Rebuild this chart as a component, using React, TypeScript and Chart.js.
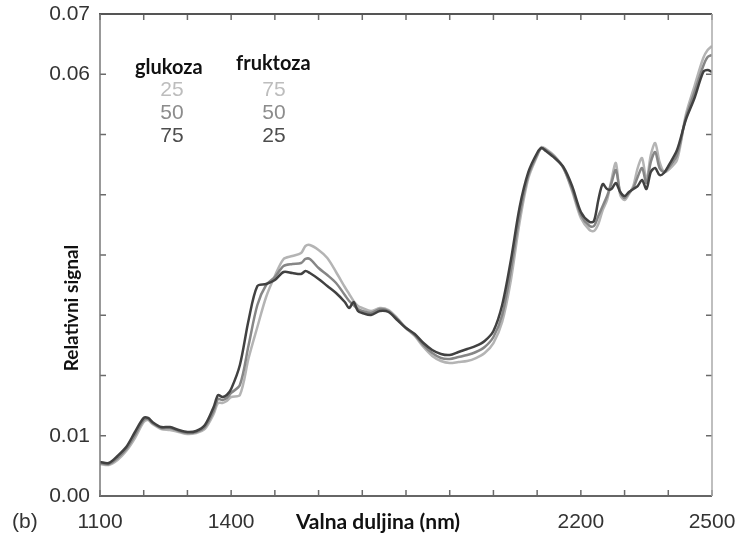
import React, { useEffect, useRef } from "react";
import { Chart, registerables } from "chart.js";

Chart.register(...registerables);

// Wavelengths (nm)
const WAVELENGTHS = [
  1100, 1120, 1140, 1160, 1180, 1200, 1210, 1220, 1240, 1260, 1280, 1300, 1320, 1340, 1360, 1370, 1380, 1390,
  1400, 1420, 1440, 1460, 1480, 1500, 1520, 1540, 1560, 1570, 1580, 1600, 1620, 1640, 1660, 1670, 1680, 1690,
  1700, 1720, 1740, 1760, 1780, 1800, 1820, 1840, 1860, 1880, 1900, 1920, 1940, 1960, 1980, 2000, 2020, 2040,
  2060, 2080, 2100, 2110, 2120, 2140, 2160, 2180, 2200, 2220, 2230, 2240, 2250, 2260, 2270, 2280, 2290, 2300,
  2310, 2320, 2330, 2340, 2350, 2360, 2370, 2380, 2390, 2400, 2420, 2440, 2460, 2480, 2490, 2500,
];

// glukoza 75 / fruktoza 25 (dark)
const GLU75_FRU25 = [
  0.00564, 0.00548, 0.00664, 0.00813, 0.01062, 0.01295, 0.01295, 0.01228, 0.01145, 0.01145, 0.01095, 0.01062,
  0.01079, 0.01178, 0.01477, 0.01676, 0.01643, 0.01676, 0.01776, 0.02174, 0.02921, 0.03485, 0.03519, 0.03585,
  0.03718, 0.03701, 0.03685, 0.03734, 0.03701, 0.03602, 0.03485, 0.03369, 0.0322, 0.0312, 0.0322, 0.0307,
  0.03037, 0.03004, 0.0307, 0.03054, 0.02921, 0.02788, 0.02689, 0.02539, 0.02423, 0.02357, 0.0234, 0.0239,
  0.0244, 0.0249, 0.02573, 0.02739, 0.0317, 0.03917, 0.04797, 0.05378, 0.05693, 0.05776, 0.05726, 0.0561,
  0.0546, 0.05145, 0.04714, 0.04548, 0.04564, 0.04913, 0.05178, 0.05095, 0.05095, 0.05195, 0.05046, 0.04979,
  0.05046, 0.05095, 0.05145, 0.05245, 0.05095, 0.05378, 0.05444, 0.05328, 0.05361, 0.05477, 0.05743, 0.06241,
  0.06606, 0.07037, 0.07071, 0.07037,
];

// glukoza 50 / fruktoza 50 (mid grey)
const GLU50_FRU50 = [
  0.00548, 0.00531, 0.00631, 0.0078, 0.01012, 0.01261, 0.01278, 0.01212, 0.01129, 0.01129, 0.01079, 0.01046,
  0.01062, 0.01145, 0.01411, 0.0161, 0.01593, 0.01627, 0.0171, 0.01842, 0.02506, 0.0317, 0.03502, 0.03635,
  0.03817, 0.03851, 0.03867, 0.03934, 0.03934, 0.03784, 0.03668, 0.03535, 0.03336, 0.03237, 0.0317, 0.03104,
  0.0307, 0.03037, 0.03104, 0.0307, 0.02938, 0.02788, 0.02672, 0.02506, 0.02373, 0.0229, 0.02274, 0.02307,
  0.0234, 0.0239, 0.02473, 0.02639, 0.03004, 0.03751, 0.04664, 0.05328, 0.0566, 0.05776, 0.05743, 0.05627,
  0.05444, 0.05095, 0.04664, 0.04481, 0.04481, 0.04647, 0.04813, 0.04979, 0.05195, 0.05411, 0.05046, 0.04946,
  0.05029, 0.05112, 0.05295, 0.05444, 0.05195, 0.05544, 0.0571, 0.05444, 0.05378, 0.05444, 0.0566, 0.06274,
  0.06705, 0.07137, 0.07286, 0.0732,
];

// glukoza 25 / fruktoza 75 (light grey)
const GLU25_FRU75 = [
  0.00531, 0.00515, 0.00598, 0.00747, 0.00963, 0.01228, 0.01261, 0.01195, 0.01112, 0.01095, 0.01062, 0.01029,
  0.01046, 0.01112, 0.01361, 0.01544, 0.01544, 0.01577, 0.01643, 0.01676, 0.0229, 0.02805, 0.03303, 0.03651,
  0.03934, 0.03983, 0.04033, 0.04149, 0.04166, 0.04083, 0.0395, 0.03718, 0.03469, 0.03353, 0.03237, 0.03154,
  0.0312, 0.0307, 0.0312, 0.03087, 0.02954, 0.02788, 0.02656, 0.02473, 0.02324, 0.02241, 0.02207, 0.02224,
  0.02241, 0.0229, 0.02373, 0.02539, 0.02888, 0.03585, 0.04548, 0.05278, 0.05643, 0.05793, 0.05759, 0.05643,
  0.05444, 0.05062, 0.04614, 0.04415, 0.04398, 0.04515, 0.04747, 0.04913, 0.05245, 0.05527, 0.04996, 0.04913,
  0.05012, 0.05145, 0.05444, 0.0561, 0.05245, 0.0566, 0.05859, 0.05544, 0.05378, 0.05411, 0.05577, 0.06324,
  0.06805, 0.0727, 0.07402, 0.07469,
];

const X_TICK_LABELS: Record<number, string> = { 1100: "1100", 1400: "1400", 2200: "2200", 2500: "2500" };
const Y_TICK_LABELS = ["0.00", "0.01", "", "", "", "", "", "0.06", "0.07"];
const X_TITLE = "Valna duljina (nm)";
const Y_TITLE = "Relativni signal";
const PANEL_LABEL = "(b)";
const LEGEND_HEADERS = ["glukoza", "fruktoza"];
const LEGEND_GLUKOZA = ["25", "50", "75"];
const LEGEND_FRUKTOZA = ["75", "50", "25"];

const LIGHT = "#b4b4b4";
const MID = "#868686";
const DARK = "#414141";
const LEGEND_COLORS = ["#bdbdbd", "#8c8c8c", "#4d4d4d"];

const decorPlugin = {
  id: "decor",
  afterDraw(chart: any) {
    const { ctx, chartArea, scales } = chart;
    const { left, right, top, bottom } = chartArea;
    const x = scales.x;
    const y = scales.y;
    ctx.save();
    // inward tick marks
    ctx.lineWidth = 1.5;
    ctx.strokeStyle = "#6a6a6a";
    const seg = (x1: number, y1: number, x2: number, y2: number) => {
      ctx.beginPath();
      ctx.moveTo(x1, y1);
      ctx.lineTo(x2, y2);
      ctx.stroke();
    };
    x.ticks.forEach((t: any) => {
      const px = x.getPixelForValue(t.value);
      seg(px, bottom, px, bottom - 6);
      seg(px, top, px, top + 6);
    });
    y.ticks.forEach((t: any) => {
      const py = y.getPixelForValue(t.value);
      seg(left, py, left + 6, py);
      seg(right, py, right - 6, py);
    });
    // frame
    ctx.lineWidth = 2;
    ctx.strokeStyle = "#555";
    seg(left - 1, top, right, top);
    ctx.strokeStyle = "#666";
    seg(left - 1, bottom, right, bottom);
    ctx.lineWidth = 1.5;
    ctx.strokeStyle = "#777";
    seg(left, top, left, bottom);
    ctx.strokeStyle = "#aaa";
    seg(right, top, right, bottom);

    // panel label
    ctx.textBaseline = "middle";
    ctx.textAlign = "left";
    ctx.fillStyle = "#333";
    ctx.font = "21px 'Liberation Sans', Arial, sans-serif";
    ctx.fillText(PANEL_LABEL, 12, 522);

    // x title
    ctx.textAlign = "center";
    ctx.fillStyle = "#111";
    ctx.font = "bold 21px Lato, 'Open Sans', sans-serif";
    ctx.fillText(X_TITLE, 378, 522);

    // y title
    ctx.save();
    ctx.translate(72, 308);
    ctx.rotate(-Math.PI / 2);
    ctx.font = "bold 19px Lato, 'Open Sans', sans-serif";
    ctx.fillText(Y_TITLE, 0, 0);
    ctx.restore();

    // legend
    ctx.textBaseline = "alphabetic";
    ctx.textAlign = "left";
    ctx.font = "bold 20px Lato, 'Open Sans', sans-serif";
    ctx.fillStyle = "#111";
    ctx.fillText(LEGEND_HEADERS[0], 135, 74);
    ctx.fillText(LEGEND_HEADERS[1], 236, 70);
    ctx.textAlign = "center";
    ctx.textBaseline = "middle";
    ctx.font = "21px 'Liberation Sans', Arial, sans-serif";
    const rowsY = [90, 113, 136];
    LEGEND_GLUKOZA.forEach((s, i) => {
      ctx.fillStyle = LEGEND_COLORS[i];
      ctx.fillText(s, 172, rowsY[i]);
    });
    LEGEND_FRUKTOZA.forEach((s, i) => {
      ctx.fillStyle = LEGEND_COLORS[i];
      ctx.fillText(s, 274, rowsY[i]);
    });
    ctx.restore();
  },
};

export default function App() {
  const ref = useRef<HTMLCanvasElement>(null);
  useEffect(() => {
    if (!ref.current) return;
    const mk = (vals: number[]) => WAVELENGTHS.map((w, i) => ({ x: w, y: vals[i] }));
    const chart = new Chart(ref.current, {
      type: "line",
      data: {
        datasets: [
          { label: "glukoza 75 / fruktoza 25", data: mk(GLU75_FRU25), borderColor: DARK, order: 1 },
          { label: "glukoza 50 / fruktoza 50", data: mk(GLU50_FRU50), borderColor: MID, order: 2 },
          { label: "glukoza 25 / fruktoza 75", data: mk(GLU25_FRU75), borderColor: LIGHT, order: 3 },
        ],
      },
      options: {
        animation: false,
        responsive: false,
        layout: { padding: { top: 14, right: 28, left: 0, bottom: 0 } },
        elements: {
          point: { radius: 0 },
          line: { borderWidth: 2.5, tension: 0.3, fill: false },
        },
        plugins: { legend: { display: false }, tooltip: { enabled: false } },
        scales: {
          x: {
            type: "linear",
            min: 1100,
            max: 2500,
            grid: { display: false, drawTicks: false },
            border: { display: false },
            ticks: {
              stepSize: 100,
              autoSkip: false,
              maxRotation: 0,
              padding: 14,
              color: "#333",
              font: { family: "'Liberation Sans', Arial, sans-serif", size: 21 },
              callback: (v: any) => X_TICK_LABELS[Math.round(Number(v))] ?? "",
            },
            afterFit: (s: any) => {
              s.height = 43;
              s.paddingLeft = 0;
              s.paddingRight = 0;
            },
          },
          y: {
            type: "linear",
            min: 0,
            max: 0.08,
            grid: { display: false, drawTicks: false },
            border: { display: false },
            ticks: {
              stepSize: 0.01,
              autoSkip: false,
              padding: 10,
              color: "#333",
              font: { family: "'Liberation Sans', Arial, sans-serif", size: 21 },
              callback: (v: any) => Y_TICK_LABELS[Math.round(Number(v) / 0.01)] ?? "",
            },
            afterFit: (s: any) => {
              s.width = 100;
              s.paddingTop = 0;
              s.paddingBottom = 0;
            },
          },
        },
      },
      plugins: [decorPlugin],
    } as any);
    return () => chart.destroy();
  }, []);
  return (
    <canvas
      ref={ref}
      width={740}
      height={539}
      style={{ position: "fixed", left: 0, top: 0, width: 740, height: 539, display: "block", background: "#fff" }}
    />
  );
}
